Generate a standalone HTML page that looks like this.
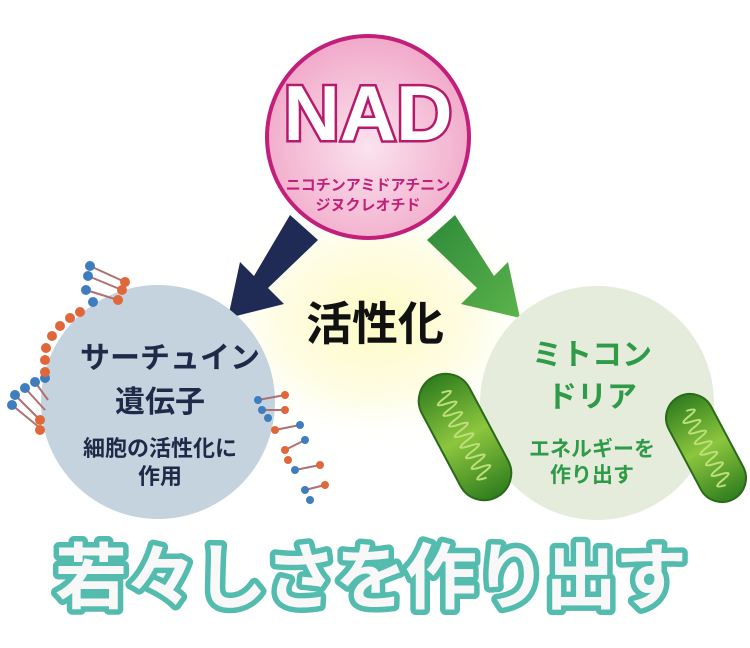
<!DOCTYPE html>
<html><head><meta charset="utf-8"><style>
html,body{margin:0;padding:0;background:#fff;}
svg{display:block;}
text{font-family:"Liberation Sans","Noto Sans CJK JP",sans-serif;font-weight:bold;}
</style></head><body>
<svg width="750" height="648" viewBox="0 0 750 648" xmlns="http://www.w3.org/2000/svg">
<defs>
<radialGradient id="glow" cx="0.5" cy="0.5" r="0.5">
<stop offset="0" stop-color="#fdfbc4"/><stop offset="0.6" stop-color="#fefde6"/><stop offset="1" stop-color="#fff" stop-opacity="0"/>
</radialGradient>
<radialGradient id="pink" cx="0.5" cy="0.55" r="0.55">
<stop offset="0" stop-color="#fbe3ee"/><stop offset="1" stop-color="#f1a9c9"/>
</radialGradient>
<linearGradient id="mito" x1="0" y1="0" x2="1" y2="0">
<stop offset="0" stop-color="#2f7d1e"/><stop offset="0.5" stop-color="#8cc63e"/><stop offset="1" stop-color="#2f7d1e"/>
</linearGradient>
<linearGradient id="ga" x1="0" y1="0" x2="1" y2="1"><stop offset="0" stop-color="#2e8a3a"/><stop offset="1" stop-color="#5bb34a"/></linearGradient>
</defs>
<ellipse cx="375" cy="320" rx="170" ry="130" fill="url(#glow)"/>
<polygon points="290,215 318,240 268,288 284,304 228,318 240,262 254,276" fill="#1f2a55"/>
<polygon points="455,215 427,240 477,288 461,304 520,318 508,262 494,276" fill="url(#ga)"/>
<circle cx="158" cy="402" r="117" fill="#c5d3df"/>
<circle cx="597" cy="403" r="117" fill="#e5ecdb"/>
<g stroke-width="2">
<g stroke="#b07070">
<line x1="90" y1="266" x2="125" y2="282"/><line x1="88" y1="276" x2="122" y2="290"/><line x1="86" y1="290" x2="118" y2="300"/>
<line x1="15" y1="395" x2="40" y2="420"/><line x1="25" y1="388" x2="45" y2="410"/><line x1="35" y1="382" x2="48" y2="400"/><line x1="12" y1="405" x2="40" y2="428"/>
</g>
<g fill="#3f7dbf"><circle cx="90" cy="266" r="5"/><circle cx="88" cy="276" r="5"/><circle cx="86" cy="290" r="5"/><circle cx="93" cy="302" r="5"/>
<circle cx="15" cy="395" r="5"/><circle cx="25" cy="388" r="5"/><circle cx="35" cy="382" r="5"/><circle cx="12" cy="405" r="5"/><circle cx="45" cy="378" r="5"/></g>
<g fill="#e0673a"><circle cx="125" cy="282" r="5"/><circle cx="122" cy="290" r="5"/><circle cx="118" cy="300" r="5"/>
<circle cx="80" cy="312" r="5"/><circle cx="70" cy="318" r="5"/><circle cx="60" cy="326" r="5"/><circle cx="52" cy="336" r="5"/><circle cx="46" cy="348" r="5"/><circle cx="45" cy="360" r="5"/><circle cx="45" cy="372" r="5"/>
<circle cx="40" cy="420" r="5"/><circle cx="40" cy="430" r="5"/></g>
<g stroke="#b07070">
<line x1="258" y1="400" x2="285" y2="395"/><line x1="262" y1="410" x2="285" y2="410"/><line x1="275" y1="430" x2="300" y2="425"/><line x1="285" y1="450" x2="305" y2="440"/><line x1="295" y1="470" x2="320" y2="465"/><line x1="305" y1="490" x2="325" y2="485"/>
</g>
<g fill="#3f7dbf"><circle cx="258" cy="400" r="4"/><circle cx="262" cy="410" r="4"/><circle cx="300" cy="425" r="4"/><circle cx="305" cy="440" r="4"/><circle cx="295" cy="470" r="4"/><circle cx="305" cy="490" r="4"/><circle cx="310" cy="500" r="4"/><circle cx="268" cy="418" r="4"/></g>
<g fill="#e0673a"><circle cx="285" cy="395" r="4"/><circle cx="285" cy="410" r="4"/><circle cx="275" cy="430" r="4"/><circle cx="285" cy="450" r="4"/><circle cx="320" cy="465" r="4"/><circle cx="325" cy="485" r="4"/><circle cx="288" cy="460" r="4"/></g>
</g>
<g transform="translate(465,437) rotate(62)">
<rect x="-68" y="-27" width="136" height="54" rx="27" fill="url(#mito)" stroke="#2a6a18" stroke-width="2"/>
<path d="M-50,0 q3,-18 6,0 t6,0 t6,0 t6,0 t6,0 t6,0 t6,0 t6,0 t6,0 t6,0 t6,0 t6,0 t6,0 t6,0 t6,0 t6,0" stroke="#bde07a" stroke-width="2" fill="none"/>
</g>
<g transform="translate(706,448) rotate(62)">
<rect x="-58" y="-24" width="116" height="48" rx="24" fill="url(#mito)" stroke="#2a6a18" stroke-width="2"/>
<path d="M-42,0 q3,-16 6,0 t6,0 t6,0 t6,0 t6,0 t6,0 t6,0 t6,0 t6,0 t6,0 t6,0 t6,0 t6,0 t6,0" stroke="#bde07a" stroke-width="2" fill="none"/>
</g>
<circle cx="368" cy="137" r="101" fill="url(#pink)" stroke="#c21f7a" stroke-width="4"/>
<text x="368" y="140" text-anchor="middle" font-size="78" fill="#fff" stroke="#b51a6c" stroke-width="5" paint-order="stroke">NAD</text>
<text x="368" y="190" text-anchor="middle" font-size="15" fill="#c21f7a">ニコチンアミドアチニン</text>
<text x="368" y="210" text-anchor="middle" font-size="15" fill="#c21f7a">ジヌクレオチド</text>
<text x="375" y="340" text-anchor="middle" font-size="46" fill="#111">活性化</text>
<text x="170" y="368" text-anchor="middle" font-size="30" fill="#1f2a48">サーチュイン</text>
<text x="160" y="412" text-anchor="middle" font-size="30" fill="#1f2a48">遺伝子</text>
<text x="160" y="456" text-anchor="middle" font-size="22" fill="#1f2a48">細胞の活性化に</text>
<text x="160" y="484" text-anchor="middle" font-size="22" fill="#1f2a48">作用</text>
<text x="592" y="365" text-anchor="middle" font-size="30" fill="#2f9a48">ミトコン</text>
<text x="592" y="407" text-anchor="middle" font-size="30" fill="#2f9a48">ドリア</text>
<text x="592" y="456" text-anchor="middle" font-size="21" fill="#2f9a48">エネルギーを</text>
<text x="592" y="482" text-anchor="middle" font-size="21" fill="#2f9a48">作り出す</text>
<text x="370" y="603" text-anchor="middle" font-size="72" fill="#f8f8f8" stroke="#53bcae" stroke-width="11" stroke-linejoin="round" paint-order="stroke" letter-spacing="-2">若々しさを作り出す</text>
</svg>
</body></html>
